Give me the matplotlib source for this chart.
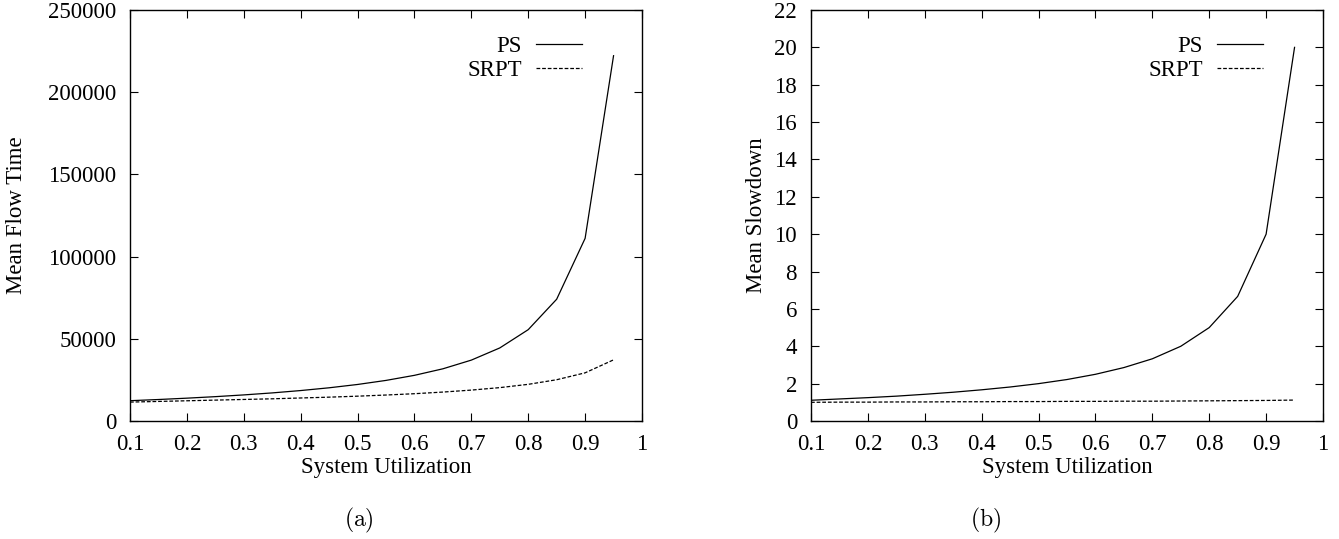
# Mean flow time / mean slowdown of PS vs SRPT against system utilization

import matplotlib
matplotlib.use('Agg')
import matplotlib.pyplot as plt

# system utilization (x) for every curve
utilization = [0.10, 0.15, 0.20, 0.25, 0.30, 0.35, 0.40, 0.45, 0.50,
               0.55, 0.60, 0.65, 0.70, 0.75, 0.80, 0.85, 0.90, 0.95]

# panel (a): mean flow time
ps_flow = [12350, 13070, 13890, 14810, 15870, 17090, 18520, 20200, 22220,
           24690, 27780, 31750, 37040, 44440, 55560, 74070, 111100, 222200]
srpt_flow = [11500, 11900, 12300, 12700, 13100, 13500, 14000, 14500, 15100,
             15800, 16600, 17600, 18800, 20300, 22300, 25100, 29300, 37200]

# panel (b): mean slowdown
ps_slow = [1.11, 1.18, 1.25, 1.33, 1.43, 1.54, 1.67, 1.82, 2.00,
           2.22, 2.50, 2.86, 3.33, 4.00, 5.00, 6.67, 10.0, 20.0]
srpt_slow = [1.00, 1.01, 1.01, 1.02, 1.02, 1.03, 1.03, 1.04, 1.04,
             1.05, 1.05, 1.06, 1.06, 1.07, 1.08, 1.09, 1.10, 1.12]

x_ticks = [0.1, 0.2, 0.3, 0.4, 0.5, 0.6, 0.7, 0.8, 0.9, 1.0]
x_ticklabels = ['0.1', '0.2', '0.3', '0.4', '0.5', '0.6', '0.7', '0.8', '0.9', '1']
flow_ticks = [0, 50000, 100000, 150000, 200000, 250000]
slow_ticks = [0, 2, 4, 6, 8, 10, 12, 14, 16, 18, 20, 22]

plt.rcParams['font.family'] = ['Liberation Serif', 'DejaVu Serif']
plt.rcParams['font.size'] = 16.5
plt.rcParams['mathtext.fontset'] = 'cm'

fig = plt.figure(figsize=(13.39, 5.39), dpi=100)
ax_flow = fig.add_axes([130/1339, 1 - 421/539, 512/1339, 411/539])
ax_slow = fig.add_axes([811/1339, 1 - 421/539, 512/1339, 411/539])


def style_panel(ax, yticks, ylabel, ylabel_x):
	ax.set_xlim(0.1, 1.0)
	ax.set_ylim(yticks[0], yticks[-1])
	ax.set_xticks(x_ticks)
	ax.set_xticklabels(x_ticklabels)
	ax.set_yticks(yticks)
	ax.tick_params(direction='in', length=6, width=0.8, top=True, right=True)
	ax.tick_params(axis='x', pad=9)
	ax.tick_params(axis='y', pad=10)
	ax.set_xlabel('System Utilization', labelpad=2)
	ax.set_ylabel(ylabel, va='center')
	ax.yaxis.set_label_coords(ylabel_x, 0.5)
	for sp in ax.spines.values():
		sp.set_linewidth(1.0)
	ax.legend(loc='upper right', bbox_to_anchor=(0.9, 0.96), frameon=False,
			  markerfirst=False, handlelength=2.0, handletextpad=0.6,
			  labelspacing=0.15, borderaxespad=0)


ax_flow.plot(utilization, ps_flow, color='black', lw=0.9, label='PS')
ax_flow.plot(utilization, srpt_flow, color='black', lw=0.9, dashes=(3, 1.5), label='SRPT')
style_panel(ax_flow, flow_ticks, 'Mean Flow Time', (17 - 130) / 512)

ax_slow.plot(utilization, ps_slow, color='black', lw=0.9, label='PS')
ax_slow.plot(utilization, srpt_slow, color='black', lw=0.9, dashes=(3, 1.5), label='SRPT')
style_panel(ax_slow, slow_ticks, 'Mean Slowdown', (756 - 811) / 512)

# subfigure captions
fig.text(359/1339, 1 - 520/539, r'$\mathrm{(a)}$', ha='center', va='center', fontsize=17)
fig.text(986/1339, 1 - 520/539, r'$\mathrm{(b)}$', ha='center', va='center', fontsize=17)

fig.savefig('out.png', dpi=100)
